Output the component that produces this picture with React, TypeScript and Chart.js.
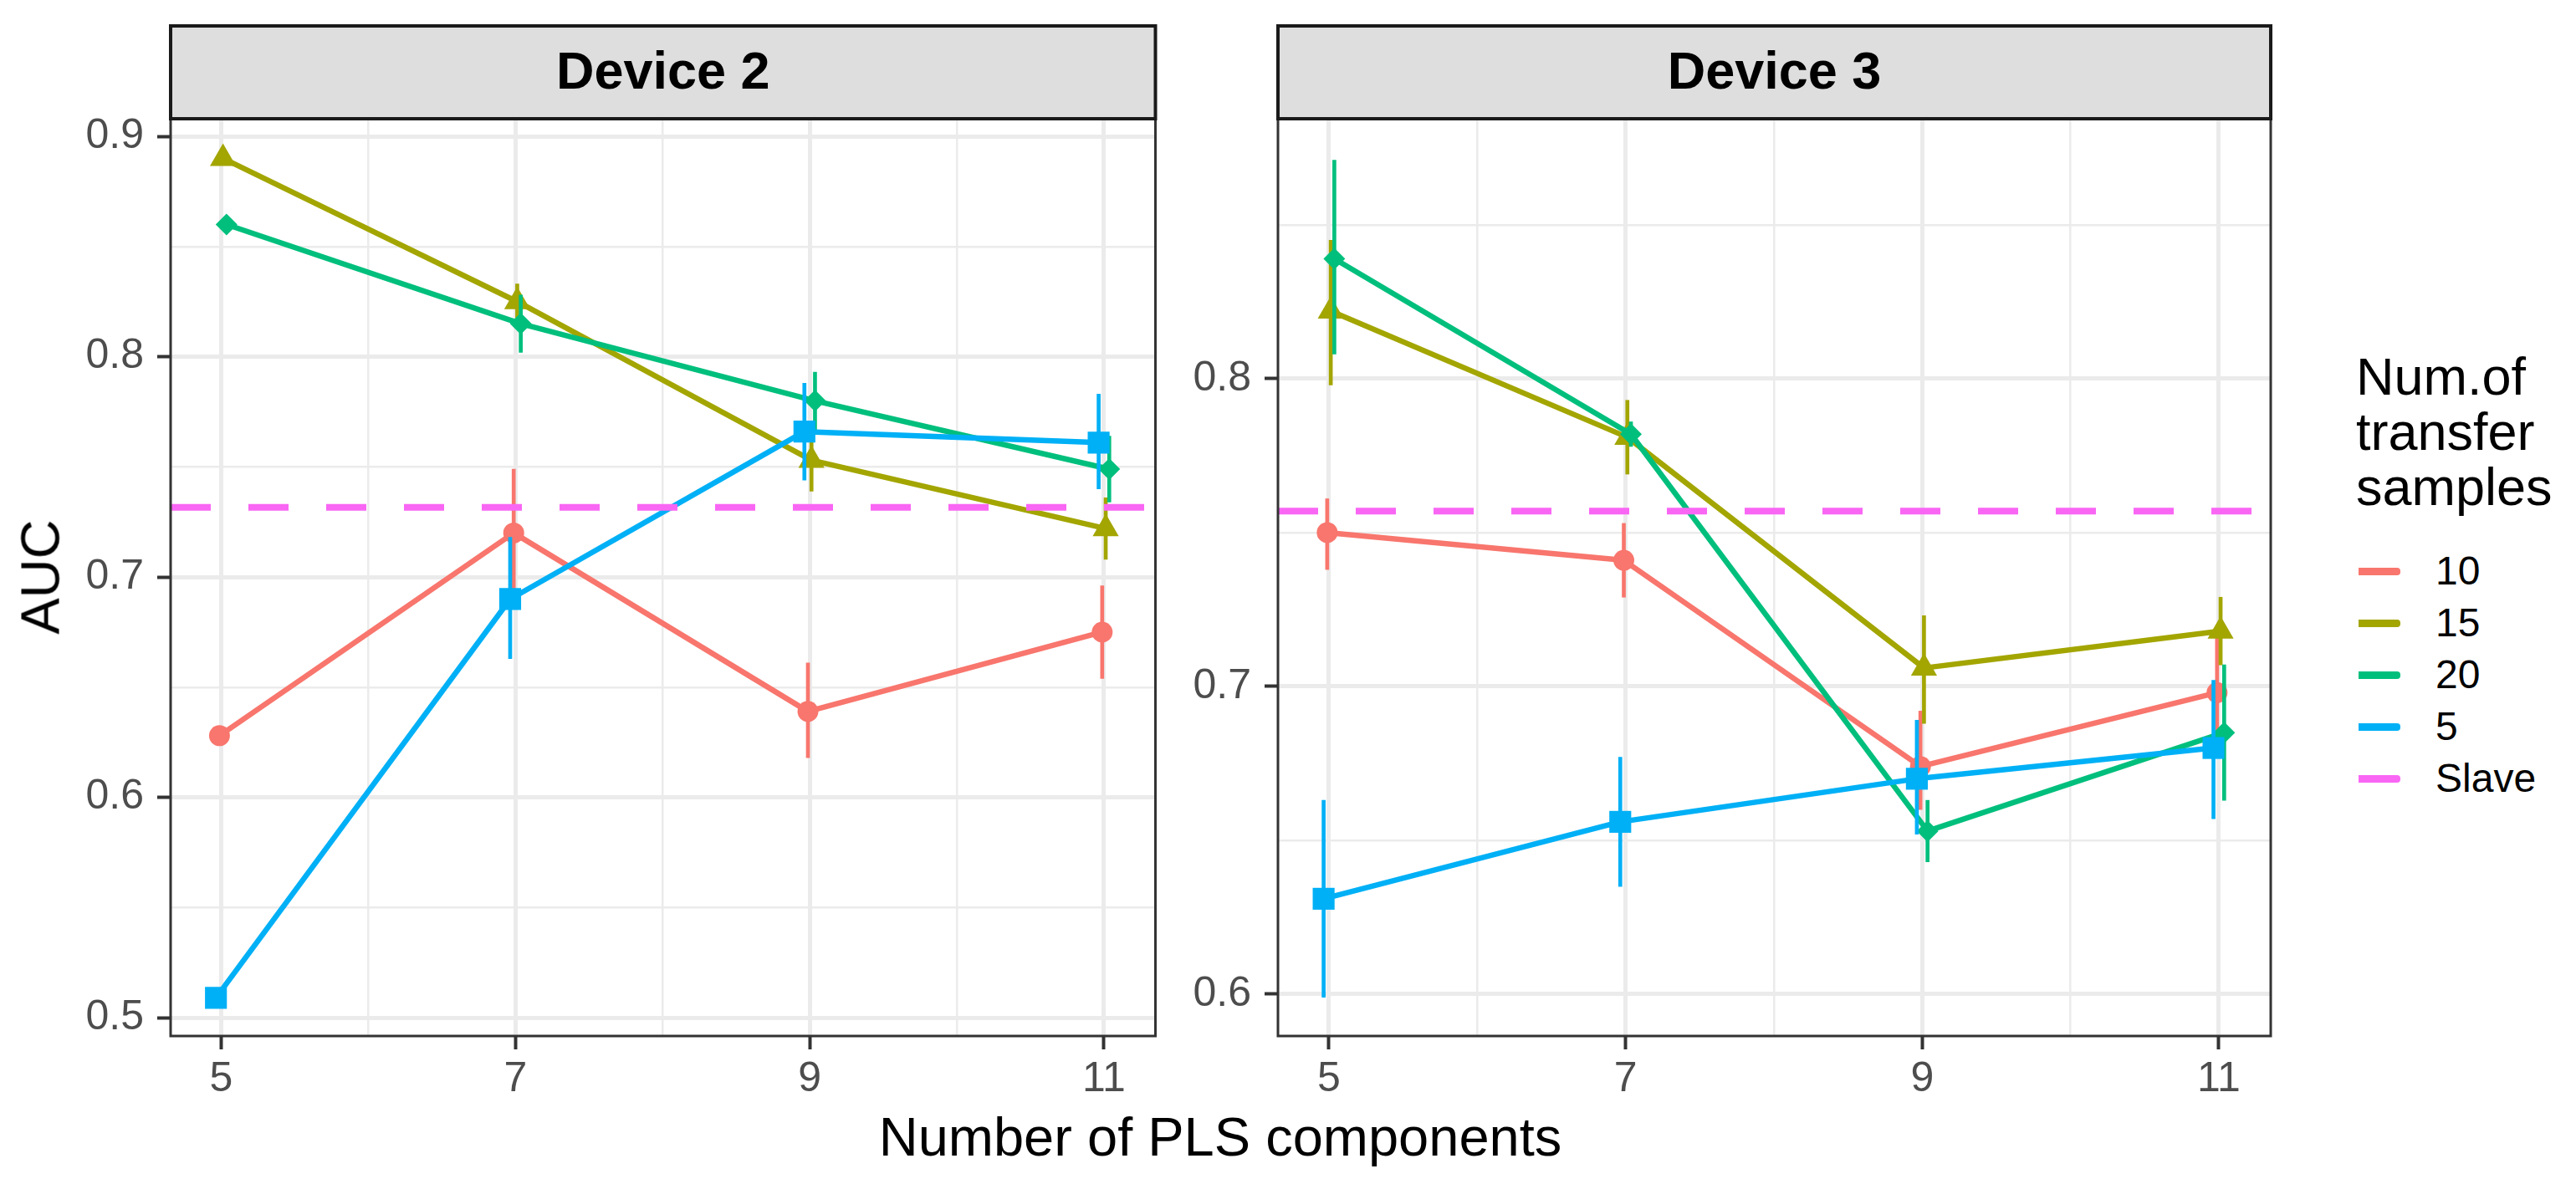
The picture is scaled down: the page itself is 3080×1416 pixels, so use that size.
import { useEffect, useRef } from 'react';
import { Chart, registerables } from 'chart.js';

Chart.register(...registerables);

// ---- data ----
const components = [5, 7, 9, 11];
const groups = ['10', '15', '20', '5'];
const legendLabels = ['10', '15', '20', '5', 'Slave'];
const xMajorTicks = [5, 7, 9, 11];
const xMinorTicks = [6, 8, 10];

// Device 2
const d2Mean10 = [0.628, 0.72, 0.639, 0.675];
const d2Low10 = [0.625, 0.69, 0.618, 0.654];
const d2High10 = [0.631, 0.749, 0.661, 0.696];
const d2Mean15 = [0.89, 0.825, 0.753, 0.722];
const d2Low15 = [0.887, 0.817, 0.739, 0.708];
const d2High15 = [0.893, 0.833, 0.762, 0.736];
const d2Mean20 = [0.86, 0.815, 0.78, 0.749];
const d2Low20 = [0.858, 0.802, 0.767, 0.734];
const d2High20 = [0.862, 0.828, 0.793, 0.764];
const d2Mean5 = [0.509, 0.69, 0.766, 0.761];
const d2Low5 = [0.506, 0.663, 0.744, 0.74];
const d2High5 = [0.512, 0.718, 0.788, 0.783];
const d2Slave = 0.7316;
const d2YMajor = [0.5, 0.6, 0.7, 0.8, 0.9];
const d2YMinor = [0.55, 0.65, 0.75, 0.85];

// Device 3
const d3Mean10 = [0.75, 0.741, 0.674, 0.698];
const d3Low10 = [0.738, 0.729, 0.66, 0.681];
const d3High10 = [0.761, 0.753, 0.692, 0.716];
const d3Mean15 = [0.822, 0.781, 0.706, 0.718];
const d3Low15 = [0.798, 0.769, 0.688, 0.707];
const d3High15 = [0.845, 0.793, 0.723, 0.729];
const d3Mean20 = [0.839, 0.782, 0.653, 0.685];
const d3Low20 = [0.808, 0.778, 0.643, 0.663];
const d3High20 = [0.871, 0.786, 0.663, 0.707];
const d3Mean5 = [0.631, 0.656, 0.67, 0.68];
const d3Low5 = [0.599, 0.635, 0.652, 0.657];
const d3High5 = [0.663, 0.677, 0.689, 0.702];
const d3Slave = 0.757;
const d3YMajor = [0.6, 0.7, 0.8];
const d3YMinor = [0.65, 0.75, 0.85];

// ---- style ----
const FONT = '"Liberation Sans", Arial, sans-serif';
const COLORS = ['#F8766D', '#A3A500', '#00BF7D', '#00B0F6'];
const SLAVE_COLOR = '#F966F4';
const SHAPES = ['circle', 'triangle', 'rectRot', 'rect'];
const RADII = [12.5, 18, 13, 18.5];
const DODGE = [-0.012, 0.012, 0.036, -0.036];
const X_MIN = 4.656;
const X_MAX = 11.35;

const STRIP_TOP = 31;
const PLOT_TOP = 142;
const PLOT_BOTTOM = 1239;
const CANVAS_H = 1330;

const facetStrip = {
  id: 'facetStrip',
  afterDraw(chart: any, _args: any, opts: any) {
    const { ctx, chartArea } = chart;
    const { left, right, top, bottom } = chartArea;
    ctx.save();
    ctx.strokeStyle = '#333333';
    ctx.lineWidth = 3;
    ctx.strokeRect(left, top, right - left, bottom - top);
    ctx.fillStyle = '#DEDEDE';
    ctx.fillRect(left, opts.top, right - left, top - opts.top);
    ctx.strokeStyle = '#1A1A1A';
    ctx.lineWidth = 4;
    ctx.strokeRect(left, opts.top, right - left, top - opts.top);
    ctx.fillStyle = '#000000';
    ctx.font = 'bold 63px ' + FONT;
    ctx.textAlign = 'center';
    ctx.textBaseline = 'middle';
    ctx.fillText(opts.text, (left + right) / 2, (opts.top + top) / 2 + 2);
    ctx.restore();
  },
};

type PanelProps = {
  title: string;
  means: number[][];
  lows: number[][];
  highs: number[][];
  slave: number;
  yMin: number;
  yMax: number;
  yMajor: number[];
  yMinor: number[];
  canvasLeft: number;
  canvasWidth: number;
  plotLeft: number;
  plotRight: number;
};

function Panel(p: PanelProps) {
  const canvasRef = useRef<HTMLCanvasElement>(null);
  const chartRef = useRef<Chart | null>(null);

  useEffect(() => {
    if (!canvasRef.current) return;
    if (chartRef.current) chartRef.current.destroy();

    const datasets: any[] = [];
    datasets.push({
      type: 'line',
      label: 'Slave',
      data: [
        { x: X_MIN, y: p.slave },
        { x: X_MAX, y: p.slave },
      ],
      borderColor: SLAVE_COLOR,
      borderWidth: 8,
      borderDash: [48, 45],
      borderCapStyle: 'butt',
      pointRadius: 0,
      order: 0,
    });
    groups.forEach((g, gi) => {
      datasets.push({
        type: 'line',
        label: g,
        data: components.map((c, i) => ({ x: c + DODGE[gi], y: p.means[gi][i] })),
        borderColor: COLORS[gi],
        borderWidth: 6.5,
        borderJoinStyle: 'round',
        tension: 0,
        pointStyle: SHAPES[gi],
        pointRadius: RADII[gi],
        pointBackgroundColor: COLORS[gi],
        pointBorderWidth: 0,
        order: 40 - gi * 10,
      });
      datasets.push({
        type: 'bar',
        label: g + ' range',
        data: components.map((c, i) => ({ x: c + DODGE[gi], y: [p.lows[gi][i], p.highs[gi][i]] })),
        backgroundColor: COLORS[gi],
        borderWidth: 0,
        barThickness: 4,
        grouped: false,
        order: 41 - gi * 10,
      });
    });

    const isMajorX = (v: number) => xMajorTicks.includes(v);
    const isMajorY = (v: number) => p.yMajor.includes(v);

    chartRef.current = new Chart(canvasRef.current, {
      type: 'line',
      data: { datasets },
      plugins: [facetStrip],
      options: {
        animation: false,
        responsive: true,
        maintainAspectRatio: false,
        events: [],
        layout: {
          padding: {
            left: 0,
            top: PLOT_TOP,
            right: p.canvasLeft + p.canvasWidth - p.plotRight,
            bottom: 0,
          },
        },
        plugins: {
          legend: { display: false },
          tooltip: { enabled: false },
          facetStrip: { text: p.title, top: STRIP_TOP },
        } as any,
        scales: {
          x: {
            type: 'linear',
            min: X_MIN,
            max: X_MAX,
            offset: false,
            afterBuildTicks: (s: any) => {
              s.ticks = [...xMajorTicks, ...xMinorTicks].sort((a, b) => a - b).map((v) => ({ value: v }));
            },
            afterFit: (s: any) => {
              s.height = CANVAS_H - PLOT_BOTTOM;
            },
            ticks: {
              autoSkip: false,
              maxRotation: 0,
              padding: 6,
              color: '#4D4D4D',
              font: { family: FONT, size: 50 },
              callback: (v: any) => (isMajorX(v) ? String(v) : ''),
            },
            grid: {
              offset: false,
              color: '#EBEBEB',
              lineWidth: (c: any) => (c.tick && isMajorX(c.tick.value) ? 5 : 2.5),
              tickLength: 16,
              tickWidth: 4,
              tickColor: (c: any) => (c.tick && isMajorX(c.tick.value) ? '#333333' : 'rgba(0,0,0,0)'),
            },
            border: { display: false },
          },
          y: {
            type: 'linear',
            min: p.yMin,
            max: p.yMax,
            afterBuildTicks: (s: any) => {
              s.ticks = [...p.yMajor, ...p.yMinor].sort((a, b) => a - b).map((v) => ({ value: v }));
            },
            afterFit: (s: any) => {
              s.width = p.plotLeft - p.canvasLeft;
            },
            ticks: {
              autoSkip: false,
              padding: 16,
              color: '#4D4D4D',
              font: { family: FONT, size: 50 },
              callback: (v: any) => (isMajorY(v) ? Number(v).toFixed(1) : ''),
            },
            grid: {
              offset: false,
              color: '#EBEBEB',
              lineWidth: (c: any) => (c.tick && isMajorY(c.tick.value) ? 5 : 2.5),
              tickLength: 16,
              tickWidth: 4,
              tickColor: (c: any) => (c.tick && isMajorY(c.tick.value) ? '#333333' : 'rgba(0,0,0,0)'),
            },
            border: { display: false },
          },
        },
      },
    });

    return () => {
      if (chartRef.current) {
        chartRef.current.destroy();
        chartRef.current = null;
      }
    };
  }, []);

  return (
    <div
      style={{
        position: 'absolute',
        left: p.canvasLeft,
        top: 0,
        width: p.canvasWidth,
        height: CANVAS_H,
      }}
    >
      <canvas ref={canvasRef} />
    </div>
  );
}

export default function App() {
  const legendColors = [...COLORS, SLAVE_COLOR];
  return (
    <div
      style={{
        position: 'absolute',
        left: 0,
        top: 0,
        width: 3080,
        height: 1416,
        background: '#FFFFFF',
        fontFamily: FONT,
        overflow: 'hidden',
      }}
    >
      <Panel
        title="Device 2"
        means={[d2Mean10, d2Mean15, d2Mean20, d2Mean5]}
        lows={[d2Low10, d2Low15, d2Low20, d2Low5]}
        highs={[d2High10, d2High15, d2High20, d2High5]}
        slave={d2Slave}
        yMin={0.4917}
        yMax={0.908}
        yMajor={d2YMajor}
        yMinor={d2YMinor}
        canvasLeft={0}
        canvasWidth={1400}
        plotLeft={204}
        plotRight={1391}
      />
      <Panel
        title="Device 3"
        means={[d3Mean10, d3Mean15, d3Mean20, d3Mean5]}
        lows={[d3Low10, d3Low15, d3Low20, d3Low5]}
        highs={[d3High10, d3High15, d3High20, d3High5]}
        slave={d3Slave}
        yMin={0.5864}
        yMax={0.8845}
        yMajor={d3YMajor}
        yMinor={d3YMinor}
        canvasLeft={1400}
        canvasWidth={1360}
        plotLeft={1528}
        plotRight={2715}
      />

      <div
        style={{
          position: 'absolute',
          left: 48,
          top: 690,
          transform: 'translate(-50%, -50%) rotate(-90deg)',
          fontSize: 65,
          lineHeight: '65px',
          color: '#000',
          whiteSpace: 'nowrap',
        }}
      >
        AUC
      </div>
      <div
        style={{
          position: 'absolute',
          left: 1459,
          top: 1327,
          transform: 'translateX(-50%)',
          fontSize: 65,
          lineHeight: '65px',
          color: '#000',
          whiteSpace: 'nowrap',
        }}
      >
        Number of PLS components
      </div>

      <div
        style={{
          position: 'absolute',
          left: 2817,
          top: 417,
          fontSize: 63,
          lineHeight: '66px',
          color: '#000',
          whiteSpace: 'nowrap',
        }}
      >
        Num.of
        <br />
        transfer
        <br />
        samples
      </div>
      {legendLabels.map((lab, i) => (
        <div
          key={lab}
          style={{
            position: 'absolute',
            left: 2820,
            top: 652 + i * 62,
            height: 62,
            display: 'flex',
            alignItems: 'center',
          }}
        >
          <div style={{ width: 50, height: 9, background: legendColors[i], borderRadius: '0 4px 4px 0' }} />
          <span style={{ marginLeft: 42, fontSize: 48, color: '#000', lineHeight: '62px' }}>{lab}</span>
        </div>
      ))}
    </div>
  );
}
